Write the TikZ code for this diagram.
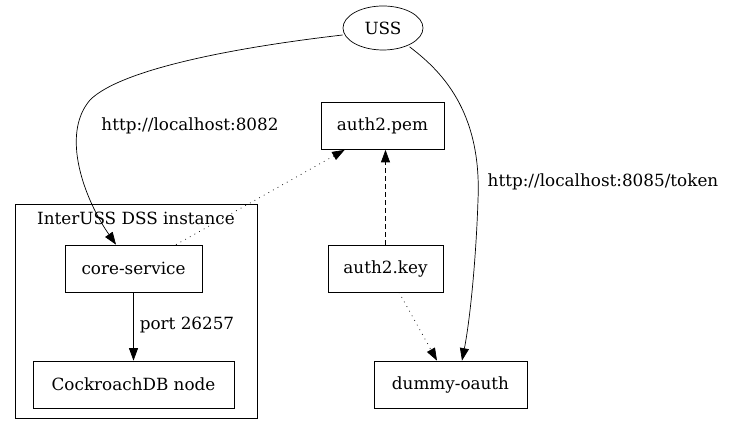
\documentclass[tikz,border=0pt]{standalone}
\usepackage{fontspec}
\setmainfont{DejaVu Serif}
\usetikzlibrary{arrows.meta,shapes.geometric,calc}
\begin{document}
\begin{tikzpicture}[x=1pt,y=-1pt,
  box/.style={draw, rectangle, minimum height=47pt, inner sep=0pt, font=\fontsize{16.8}{19}\selectfont},
  lbl/.style={font=\fontsize{16.8}{19}\selectfont, inner sep=0pt},
  arr/.style={-{Triangle[length=12.5pt,width=9pt]}, line width=0.7pt},
  dotline/.style={dash pattern=on 0.8pt off 4.5pt},
  dashline/.style={dash pattern=on 5pt off 3pt}]
\useasboundingbox (0,0) rectangle (737,435);
\draw[line width=0.7pt] (15,204) rectangle (257,418);
\node[lbl] (cl) at (136,218) {InterUSS DSS instance};
\node[draw, line width=0.7pt, ellipse, minimum width=80pt, minimum height=44pt, inner sep=0pt, font=\fontsize{16.8}{19}\selectfont] (uss) at (383,28) {USS};
\node[box, line width=0.7pt, minimum width=123pt] (pem) at (382.5,126) {auth2.pem};
\node[box, line width=0.7pt, minimum width=115pt] (key) at (385.5,268.5) {auth2.key};
\node[box, line width=0.7pt, minimum width=153pt] (oauth) at (450.5,384.5) {dummy-oauth};
\node[box, line width=0.7pt, minimum width=137pt] (core) at (133.5,268.5) {core-service};
\node[box, line width=0.7pt, minimum width=201pt] (crdb) at (133.5,384.5) {CockroachDB node};
\draw[arr] ($(uss.west)+(0,7)$) .. controls (230,48) and (120,70) .. (90,100) .. controls (60,135) and (85,200) .. (core.north -| 116,0);
\draw[arr] ($(uss.south east)+(-2,3)$) .. controls (440,70) and (482,110) .. (478,200) .. controls (476,260) and (470,320) .. (oauth.north -| 462,0);
\node[lbl] (l1) at (190,126) {http://localhost:8082};
\node[lbl] (l2) at (603,182) {http://localhost:8085/token};
\node[lbl] (l3) at (187,325) {port 26257};
\draw[arr, dotline] (core.north -| 176,0) -- ($(pem.south west)+(24,0)$);
\draw[arr, dashline] (key.north) -- (key.north |- pem.south);
\draw[arr, dotline] (key.south -| 399,0) -- (oauth.north -| 437,0);
\draw[arr] (core) -- (crdb);
\end{tikzpicture}
\end{document}
